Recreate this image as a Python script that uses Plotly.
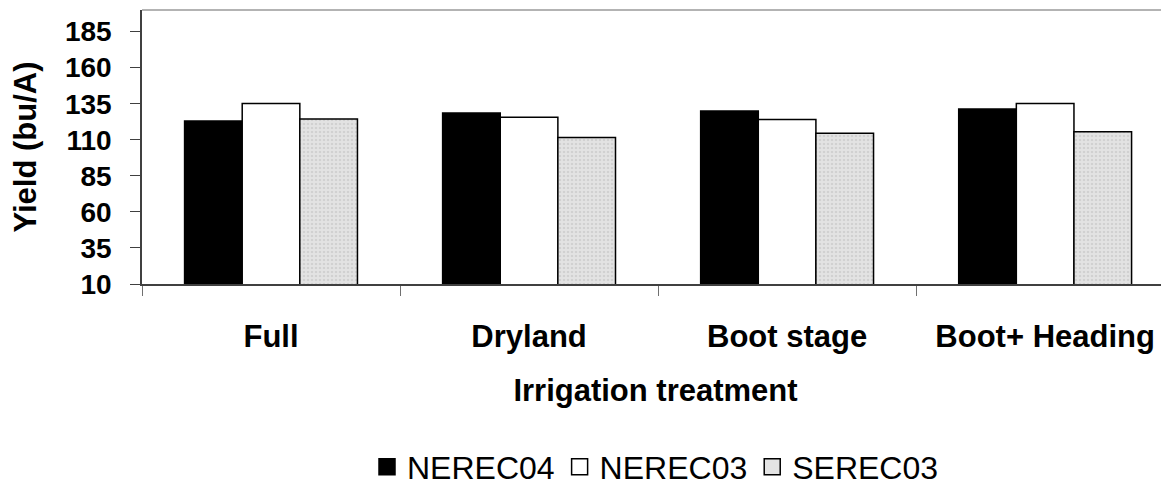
import plotly.graph_objects as go

categories = ["Full", "Dryland", "Boot stage", "Boot+ Heading"]
nerec04 = [123.0, 128.5, 130.0, 131.3]
nerec03 = [135.2, 125.7, 124.1, 135.2]
serec03 = [124.5, 111.6, 114.6, 115.5]
series_names = ["NEREC04", "NEREC03", "SEREC03"]
y_ticks = [10, 35, 60, 85, 110, 135, 160, 185]

FONT = "Liberation Sans, Arial, sans-serif"
fills = ["black", "white", "#e3e3e3"]
patterns = [None, None, dict(shape=".", fgcolor="#bdbdbd", size=4, solidity=0.3)]

fig = go.Figure()
for name, vals, fill, pat in zip(series_names, [nerec04, nerec03, serec03], fills, patterns):
    marker = dict(color=fill, line=dict(color="black", width=1.5))
    if pat:
        marker["pattern"] = pat
    fig.add_trace(go.Bar(name=name, x=categories, y=vals, marker=marker,
                         showlegend=False, legendgroup=name))
# legend entries with larger square swatches
for name, fill in zip(series_names, fills):
    fig.add_trace(go.Scatter(name=name, x=[None], y=[None], mode="markers",
                             legendgroup=name,
                             marker=dict(symbol="square", size=16, color=fill,
                                         line=dict(color="black", width=1.5))))

fig.update_layout(
    width=1161, height=477,
    margin=dict(l=134, r=0, t=2, b=201, autoexpand=False),
    paper_bgcolor="white", plot_bgcolor="white",
    barmode="group", bargap=0.33, bargroupgap=0,
    font=dict(family=FONT, color="black"),
    showlegend=True,
    legend=dict(orientation="h", x=0.5, xanchor="center", y=-0.668, yanchor="middle",
                font=dict(size=32, family=FONT), itemwidth=30, itemsizing="trace",
                traceorder="normal"),
    shapes=[dict(type="line", xref="paper", yref="paper", x0=0, x1=1, y0=1, y1=1,
                 line=dict(color="#9a9a9a", width=1.5))],
)
fig.update_xaxes(
    type="category", range=[-0.5, 3.48], automargin=False,
    showline=True, linecolor="#404040", linewidth=1.5,
    ticks="outside", tickson="boundaries", ticklen=10, tickcolor="#707070",
    tickfont=dict(size=31, family=FONT, weight="bold"),
    ticklabelstandoff=24,
    title=dict(text="<b>Irrigation treatment</b>", font=dict(size=31, family=FONT), standoff=26),
    showgrid=False,
)
fig.update_yaxes(
    range=[10, 200], tickvals=y_ticks, automargin=False,
    showline=True, linecolor="#404040", linewidth=1.5,
    ticks="outside", ticklen=10, tickcolor="#404040",
    tickfont=dict(size=28, family=FONT, weight="bold"),
    ticklabelstandoff=13,
    title=dict(text="<b>Yield (bu/A)</b>", font=dict(size=31, family=FONT), standoff=19),
    showgrid=False, zeroline=False,
)

fig.write_html("out.html")
